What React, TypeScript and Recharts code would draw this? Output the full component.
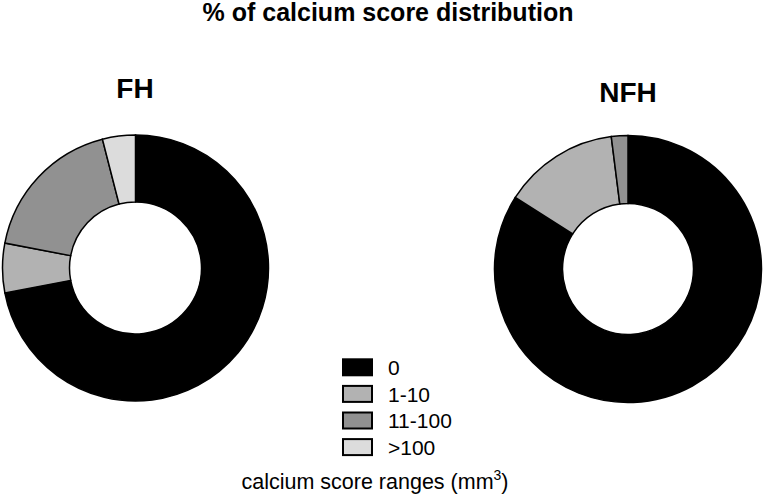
import React from 'react';
import { PieChart, Pie, Cell } from 'recharts';

const categories = ['0', '1-10', '11-100', '>100'];
const fhValues = [72, 6, 18, 4];
const nfhValues = [84, 14, 2, 0];
const colors = ['#000000', '#b2b2b2', '#919191', '#dcdcdc'];

const title = '% of calcium score distribution';
const groupLabels = ['FH', 'NFH'];
const axisLabel = 'calcium score ranges (mm';

const fhData = categories.map((c, i) => ({ name: c, value: fhValues[i] }));
const nfhData = categories.map((c, i) => ({ name: c, value: nfhValues[i] }));

const FONT = '"Liberation Sans", Arial, Helvetica, sans-serif';

export default function App() {
  return (
    <div style={{ position: 'absolute', left: 0, top: 0, width: 763, height: 499, background: '#fff' }}>
      <PieChart width={763} height={499} margin={{ top: 0, right: 0, bottom: 0, left: 0 }}>
        <text x={388} y={21} textAnchor="middle" fontFamily={FONT} fontWeight="bold" fontSize={25} fill="#000">
          {title}
        </text>
        <text x={135} y={98} textAnchor="middle" fontFamily={FONT} fontWeight="bold" fontSize={28} fill="#000">
          {groupLabels[0]}
        </text>
        <text x={628} y={101.5} textAnchor="middle" fontFamily={FONT} fontWeight="bold" fontSize={28} fill="#000">
          {groupLabels[1]}
        </text>
        <text x={375} y={489} textAnchor="middle" fontFamily={FONT} fontSize={21.5} fill="#000">
          {axisLabel}
          <tspan fontSize={14} dy={-9}>3</tspan>
          <tspan dy={9}>)</tspan>
        </text>
        <Pie
          data={fhData}
          dataKey="value"
          nameKey="name"
          cx={135.5}
          cy={268}
          innerRadius={66}
          outerRadius={133}
          startAngle={90}
          endAngle={-270}
          stroke="#000"
          strokeWidth={1.5}
          isAnimationActive={false}
        >
          {fhData.map((d, i) => (
            <Cell key={d.name} fill={colors[i]} />
          ))}
        </Pie>
        <Pie
          data={nfhData}
          dataKey="value"
          nameKey="name"
          cx={628}
          cy={269}
          innerRadius={65.5}
          outerRadius={133.5}
          startAngle={90}
          endAngle={-270}
          stroke="#000"
          strokeWidth={1.5}
          isAnimationActive={false}
        >
          {nfhData.map((d, i) => (
            <Cell key={d.name} fill={colors[i]} />
          ))}
        </Pie>
        <g>
          {categories.map((c, i) => (
            <g key={c}>
              <rect
                x={343}
                y={359.3 + i * 26.6}
                width={29}
                height={16}
                fill={colors[i]}
                stroke="#000"
                strokeWidth={2}
              />
              <text x={388} y={375 + i * 26.6} fontFamily={FONT} fontSize={21} fill="#000">
                {c}
              </text>
            </g>
          ))}
        </g>
      </PieChart>
    </div>
  );
}
